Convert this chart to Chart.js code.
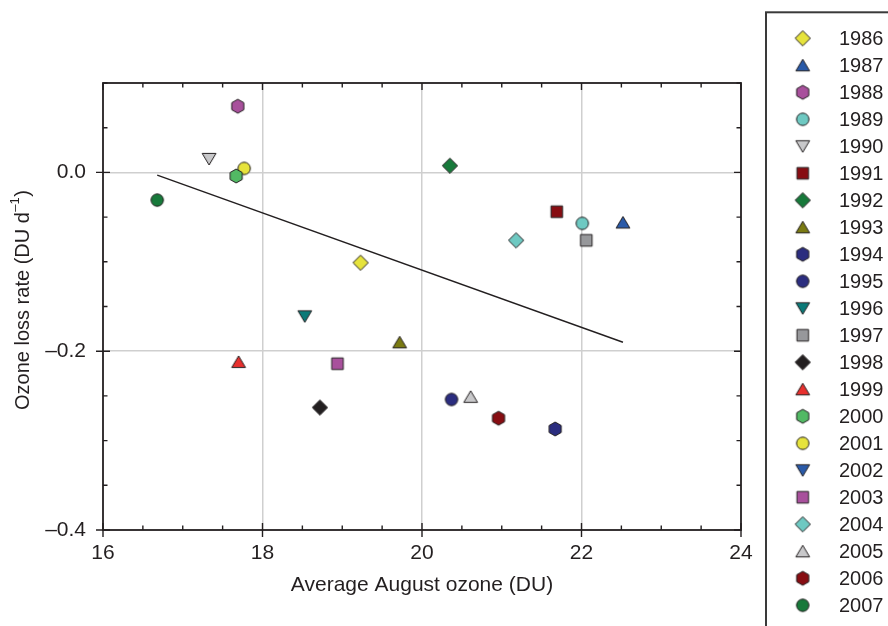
<!DOCTYPE html>
<html><head><meta charset="utf-8">
<script src="https://cdn.jsdelivr.net/npm/chart.js@4.4.1/dist/chart.umd.min.js"></script>
<style>html,body{margin:0;padding:0;background:#fff;}canvas{display:block;}</style>
</head><body>
<canvas id="c" width="888" height="626"></canvas>
<script>
// ---- data ----
const years = ['1986','1987','1988','1989','1990','1991','1992','1993','1994','1995','1996',
               '1997','1998','1999','2000','2001','2002','2003','2004','2005','2006','2007'];
const augustOzone = [19.23, 22.52, 17.69, 22.01, 17.33, 21.69, 20.35, 19.72, 21.67, 20.37, 18.53,
                     22.06, 18.72, 17.70, 17.67, 17.77, null, 18.94, 21.18, 20.61, 20.96, 16.68];
const lossRate = [-0.101, -0.056, 0.074, -0.057, 0.015, -0.044, 0.0075, -0.190, -0.287, -0.254, -0.161,
                  -0.076, -0.263, -0.212, -0.004, 0.0045, null, -0.214, -0.076, -0.251, -0.275, -0.031];
const trendX = [16.68, 22.52];
const trendY = [-0.003, -0.190];
const xMajorTicks = [16, 18, 20, 22, 24];
const xTickLabels = ['16', '18', '20', '22', '24'];
const yMajorTicks = [-0.4, -0.2, 0.0];
const yTickLabels = ['\u20130.4', '\u20130.2', '0.0'];
const xMinorStep = 0.5;
const yMinorStep = 0.05;
const xTitle = 'Average August ozone (DU)';
const yTitleMain = 'Ozone loss rate (DU d';
const yTitleSup = '\u20131';
const yTitleEnd = ')';

// ---- styles ----
const markerShapes = ['diamond','triUp','hexagon','circle','triDown','square'];
const markerColors = ['#e6e33c','#2a5aa8','#a8509c','#6ec9c2','#c8c8ca','#870d12','#17793a','#7a7a12',
                      '#2b2d7f','#2b2d7f','#0b7a78','#97989b','#231f20','#e8302e','#52b964','#e6e33c',
                      '#2a5aa8','#a8509c','#6ec9c2','#c8c8ca','#870d12','#17793a'];
const FONT = "'Liberation Sans', Arial, Helvetica, sans-serif";
const TXT = '#231f20';

function makeMarker(shape, fill) {
  const S = 22, m = S / 2;
  const c = document.createElement('canvas'); c.width = S; c.height = S;
  const g = c.getContext('2d');
  g.beginPath();
  if (shape === 'circle') g.arc(m, m, 6.2, 0, 2 * Math.PI);
  else if (shape === 'square') g.rect(m - 5.8, m - 5.8, 11.6, 11.6);
  else if (shape === 'diamond') { g.moveTo(m, m - 7.6); g.lineTo(m + 7.6, m); g.lineTo(m, m + 7.6); g.lineTo(m - 7.6, m); g.closePath(); }
  else if (shape === 'triUp') { g.moveTo(m, m - 6); g.lineTo(m + 6.9, m + 5.6); g.lineTo(m - 6.9, m + 5.6); g.closePath(); }
  else if (shape === 'triDown') { g.moveTo(m, m + 6); g.lineTo(m + 6.9, m - 5.6); g.lineTo(m - 6.9, m - 5.6); g.closePath(); }
  else if (shape === 'hexagon') {
    const R = 7;
    for (let k = 0; k < 6; k++) { const a = (-90 + 60 * k) * Math.PI / 180; const px = m + R * Math.cos(a), py = m + R * Math.sin(a); k ? g.lineTo(px, py) : g.moveTo(px, py); }
    g.closePath();
  }
  g.fillStyle = fill; g.fill();
  g.lineWidth = 1; g.strokeStyle = '#231f20'; g.stroke();
  return c;
}
const markers = years.map((y, i) => makeMarker(markerShapes[i % 6], markerColors[i]));

function near(a, b) { return Math.abs(a - b) < 1e-9; }
function isMajor(list, v) { return list.some(m => near(m, v)); }
function rangeTicks(a, b, step) { const out = []; const n = Math.round((b - a) / step); for (let k = 0; k <= n; k++) out.push(+(a + k * step).toFixed(6)); return out; }

const datasets = years.map((yr, i) => ({
  label: yr,
  data: augustOzone[i] == null ? [] : [{ x: augustOzone[i], y: lossRate[i] }],
  pointStyle: markers[i], pointRadius: 7, pointHoverRadius: 7, showLine: false, order: 0
}));
datasets.push({
  label: 'trend', data: trendX.map((x, i) => ({ x, y: trendY[i] })), showLine: true,
  borderColor: '#231f20', borderWidth: 1.4, pointRadius: 0, fill: false, order: 1
});

const decorPlugin = {
  id: 'decor',
  afterDraw(chart) {
    const g = chart.ctx, a = chart.chartArea, xs = chart.scales.x, ys = chart.scales.y;
    g.save();
    // frame
    g.strokeStyle = '#231f20'; g.lineWidth = 1.8;
    g.strokeRect(a.left, a.top, a.right - a.left, a.bottom - a.top);
    // tick marks
    g.lineWidth = 1.4; g.beginPath();
    rangeTicks(xs.min, xs.max, xMinorStep).forEach(v => {
      const p = xs.getPixelForValue(v);
      if (isMajor(xMajorTicks, v)) { g.moveTo(p, a.bottom + 7); g.lineTo(p, a.bottom - 7); g.moveTo(p, a.top); g.lineTo(p, a.top + 7); }
      else { g.moveTo(p, a.bottom); g.lineTo(p, a.bottom - 4.5); g.moveTo(p, a.top); g.lineTo(p, a.top + 4.5); }
    });
    rangeTicks(ys.min, ys.max, yMinorStep).forEach(v => {
      const p = ys.getPixelForValue(v);
      if (isMajor(yMajorTicks, v)) { g.moveTo(a.left - 7, p); g.lineTo(a.left + 7, p); g.moveTo(a.right - 7, p); g.lineTo(a.right, p); }
      else { g.moveTo(a.left, p); g.lineTo(a.left + 4.5, p); g.moveTo(a.right - 4.5, p); g.lineTo(a.right, p); }
    });
    g.stroke();
    // axis titles
    g.fillStyle = TXT; g.font = '21px ' + FONT; g.textBaseline = 'middle'; g.textAlign = 'center';
    g.fillText(xTitle, (a.left + a.right) / 2, 585);
    g.save();
    g.translate(23, 300); g.rotate(-Math.PI / 2);
    g.textAlign = 'left';
    const mainFont = '20px ' + FONT, supFont = '13px ' + FONT;
    g.font = mainFont; const w1 = g.measureText(yTitleMain).width, w3 = g.measureText(yTitleEnd).width;
    g.font = supFont; const w2 = g.measureText(yTitleSup).width;
    let x0 = -(w1 + w2 + w3 + 1) / 2;
    g.font = mainFont; g.fillText(yTitleMain, x0, 0);
    g.font = supFont; g.fillText(yTitleSup, x0 + w1 + 0.5, -8);
    g.font = mainFont; g.fillText(yTitleEnd, x0 + w1 + w2 + 1, 0);
    g.restore();
    // legend
    g.strokeStyle = '#3a3a3a'; g.lineWidth = 2;
    g.strokeRect(766, 12.3, 200, 700);
    g.font = '20px ' + FONT; g.textAlign = 'left'; g.textBaseline = 'middle'; g.fillStyle = TXT;
    years.forEach((yr, i) => {
      const cy = 38.3 + 27 * i;
      const mk = markers[i];
      g.drawImage(mk, 802.7 - mk.width / 2, cy - mk.height / 2);
      g.fillText(yr, 839, cy + 1);
    });
    g.restore();
  }
};

new Chart(document.getElementById('c'), {
  type: 'scatter',
  data: { datasets },
  options: {
    responsive: false, animation: false, devicePixelRatio: 1,
    layout: { padding: { left: 0, top: 83, right: 147, bottom: 0 } },
    plugins: { legend: { display: false }, tooltip: { enabled: false } },
    scales: {
      x: {
        type: 'linear', min: 16, max: 24,
        afterFit(s) { s.height = 96; },
        afterBuildTicks(s) { s.ticks = rangeTicks(16, 24, xMinorStep).map(v => ({ value: v })); },
        ticks: {
          autoSkip: false, maxRotation: 0, minRotation: 0, padding: 11, color: TXT,
          font: { family: FONT, size: 21 },
          callback(v) { const k = xMajorTicks.findIndex(m => near(m, v)); return k >= 0 ? xTickLabels[k] : ''; }
        },
        grid: { drawTicks: false, lineWidth: 1.5,
          color: c => (c.tick && isMajor(xMajorTicks, c.tick.value) && c.tick.value > 16 && c.tick.value < 24) ? '#cfcfcf' : 'rgba(0,0,0,0)' },
        border: { display: false }
      },
      y: {
        type: 'linear', min: -0.4, max: 0.1,
        afterFit(s) { s.width = 103; },
        afterBuildTicks(s) { s.ticks = rangeTicks(-0.4, 0.1, yMinorStep).map(v => ({ value: v })); },
        ticks: {
          autoSkip: false, padding: 17, color: TXT,
          font: { family: FONT, size: 21 },
          callback(v) { const k = yMajorTicks.findIndex(m => near(m, v)); return k >= 0 ? yTickLabels[k] : ''; }
        },
        grid: { drawTicks: false, lineWidth: 1.5,
          color: c => (c.tick && isMajor(yMajorTicks, c.tick.value) && c.tick.value > -0.4) ? '#cfcfcf' : 'rgba(0,0,0,0)' },
        border: { display: false }
      }
    }
  },
  plugins: [decorPlugin]
});
</script>
</body></html>
